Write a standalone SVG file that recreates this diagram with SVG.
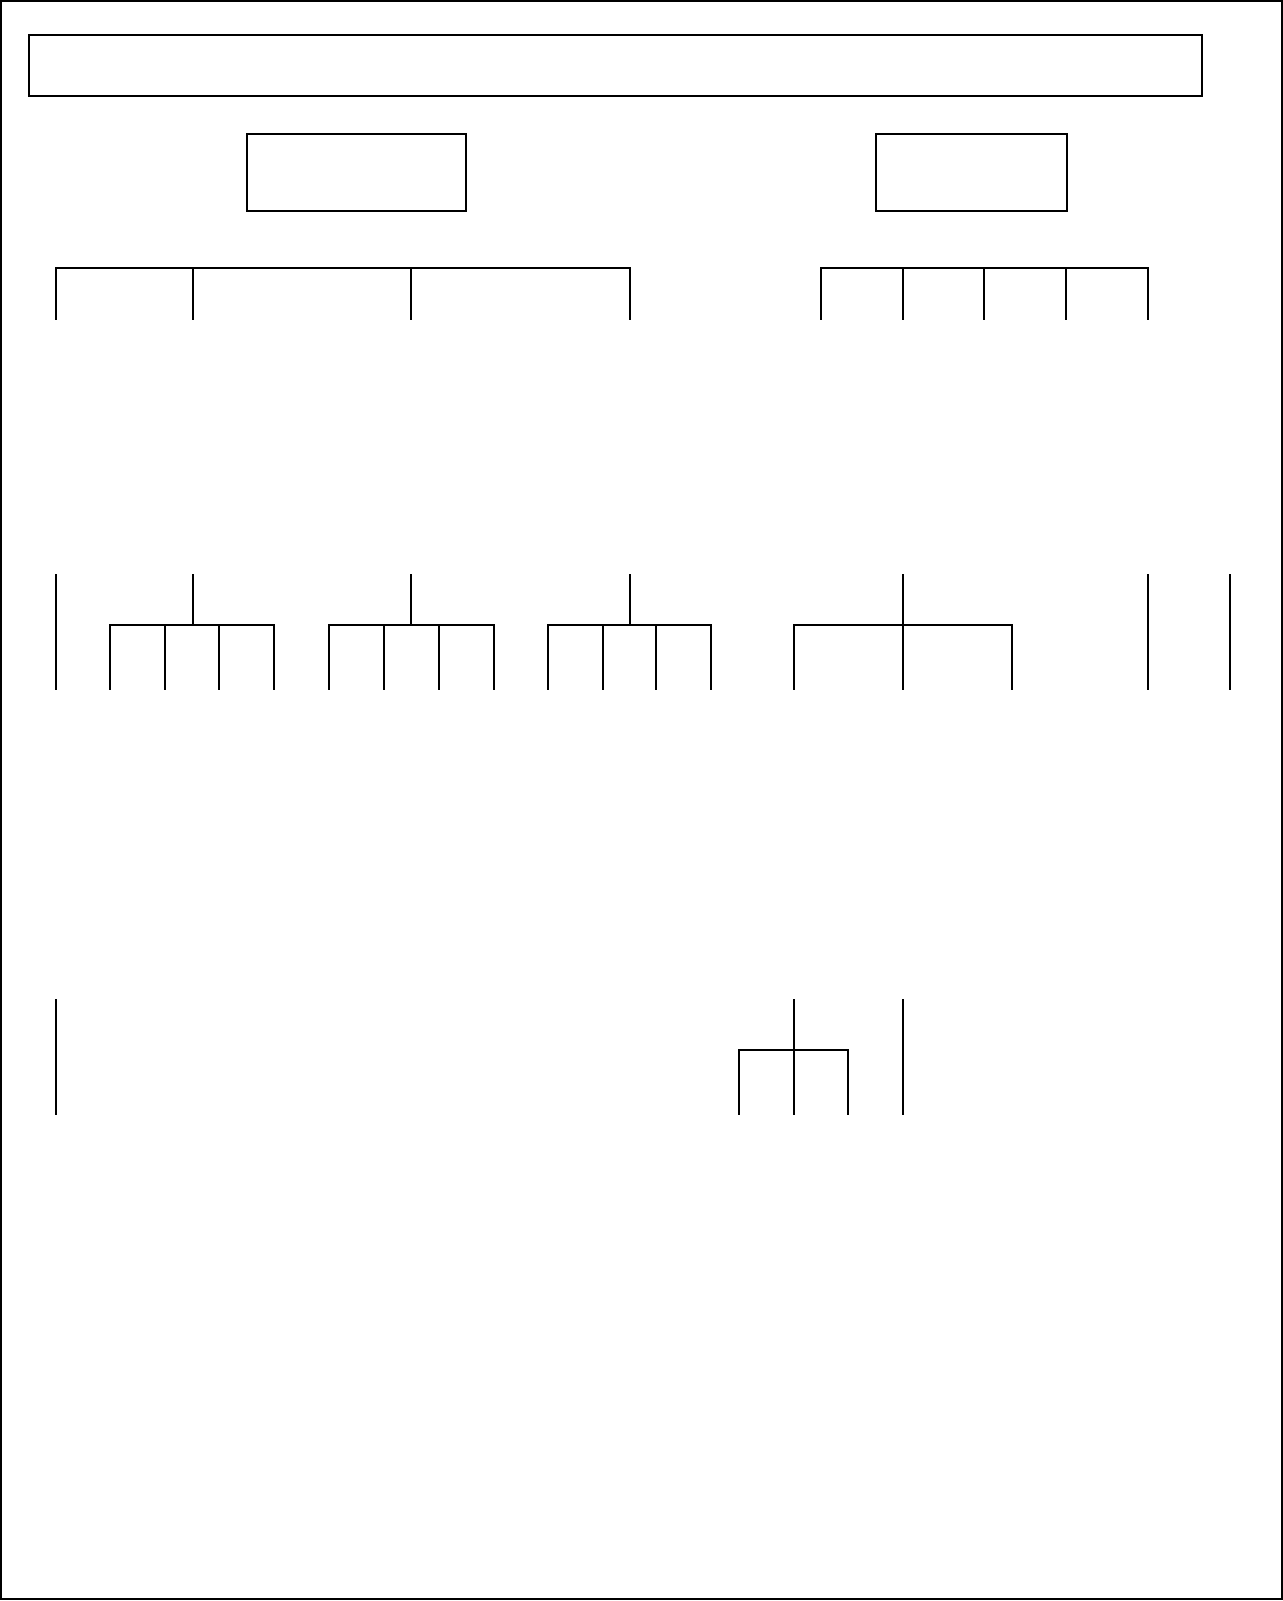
<svg xmlns="http://www.w3.org/2000/svg" width="1283" height="1601" viewBox="0 0 1283 1601">
<style>
.box{fill:#fff;stroke:#000;stroke-width:2}
.c{fill:none;stroke:#000;stroke-width:2}
</style>
<rect x="0" y="0" width="1283" height="1601" fill="#fff"/>
<g id="frame"><rect class="box" x="1" y="1" width="1281" height="1598"/></g>
<g id="title"><rect class="box" x="29" y="35" width="1173" height="61"/></g>
<g id="nodeA"><rect class="box" x="247" y="134" width="219" height="77"/></g>
<g id="nodeB"><rect class="box" x="876" y="134" width="191" height="77"/></g>
<g id="connectors">
<path class="c" d="M56 320V268H630V320M193 268V320M411 268V320"/>
<path class="c" d="M821 320V268H1148V320M903 268V320M984 268V320M1066 268V320"/>
<path class="c" d="M56 574V690"/>
<path class="c" d="M193 574V625M110 690V625H274V690M165 625V690M219 625V690"/>
<path class="c" d="M411 574V625M329 690V625H494V690M384 625V690M439 625V690"/>
<path class="c" d="M630 574V625M548 690V625H711V690M603 625V690M656 625V690"/>
<path class="c" d="M903 574V690M794 690V625H1012V690"/>
<path class="c" d="M1148 574V690M1230 574V690"/>
<path class="c" d="M56 999V1115"/>
<path class="c" d="M794 999V1115M739 1115V1050H848V1115"/>
<path class="c" d="M903 999V1115"/>
</g>
</svg>
